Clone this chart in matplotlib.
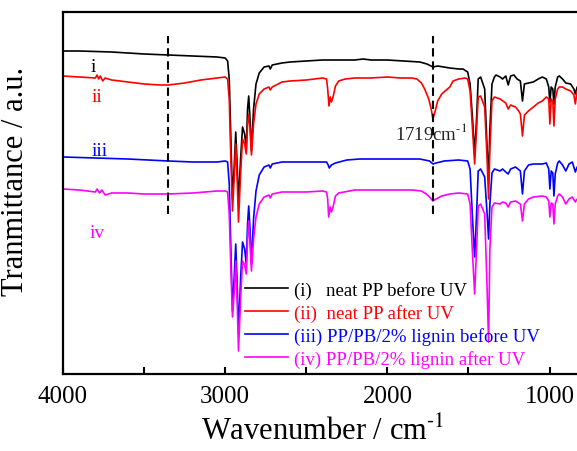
import matplotlib
matplotlib.use("Agg")
import matplotlib.pyplot as plt

plt.rcParams['font.family'] = ['Liberation Serif', 'DejaVu Serif']
plt.rcParams['mathtext.fontset'] = 'stix'

# ---- data (wavenumber cm^-1, offset transmittance a.u.) ----
wn_i = [4000, 3900, 3700, 3500, 3350, 3200, 3050, 3000, 2985, 2975, 2965, 2955, 2945, 2935, 2925, 2918, 2905, 2893, 2880, 2870, 2862, 2855, 2847, 2838, 2825, 2810, 2790, 2760, 2730, 2722, 2710, 2650, 2600, 2500, 2400, 2300, 2200, 2150, 2100, 2000, 1900, 1800, 1756, 1719, 1690, 1615, 1560, 1534, 1505, 1490, 1475, 1462, 1450, 1440, 1425, 1400, 1385, 1376, 1368, 1355, 1340, 1330, 1305, 1290, 1270, 1255, 1240, 1220, 1200, 1180, 1167, 1155, 1130, 1100, 1070, 1045, 1020, 1005, 998, 990, 980, 973, 965, 950, 940, 920, 900, 870, 850, 841, 830, 800]
t_i = [323, 323, 322, 320, 319, 318, 317, 316, 313, 295, 235, 175, 205, 242, 205, 170, 215, 247, 240, 225, 265, 278, 255, 223, 265, 290, 301, 307, 308, 305, 309, 311, 312, 313, 314, 314, 314, 315, 314, 314, 313, 312, 310, 307, 308, 306, 305, 305, 302, 290, 255, 220, 255, 295, 297, 285, 225, 195, 245, 290, 297, 299, 297, 295, 298, 289, 298, 299, 295, 293, 273, 290, 291, 292, 295, 297, 295, 287, 272, 287, 285, 270, 287, 297, 298, 295, 291, 290, 285, 280, 287, 290]

wn_ii = [4000, 3900, 3800, 3790, 3780, 3770, 3755, 3740, 3700, 3600, 3500, 3400, 3350, 3250, 3150, 3050, 3000, 2985, 2975, 2965, 2955, 2945, 2935, 2925, 2918, 2905, 2893, 2880, 2870, 2862, 2855, 2847, 2838, 2825, 2810, 2790, 2760, 2730, 2722, 2710, 2650, 2600, 2500, 2400, 2375, 2368, 2360, 2352, 2345, 2335, 2320, 2300, 2260, 2200, 2100, 2000, 1920, 1850, 1818, 1790, 1770, 1745, 1730, 1719, 1705, 1690, 1665, 1615, 1595, 1560, 1520, 1505, 1490, 1475, 1462, 1450, 1440, 1425, 1400, 1385, 1376, 1368, 1355, 1340, 1305, 1270, 1255, 1240, 1210, 1190, 1180, 1167, 1155, 1130, 1100, 1070, 1045, 1020, 1005, 998, 990, 980, 973, 965, 950, 940, 920, 900, 870, 850, 841, 830, 800]
t_ii = [298, 297, 296, 299, 295, 298, 293, 296, 294, 292, 290, 289, 289, 291, 294, 296, 297, 295, 275, 215, 163, 195, 230, 190, 152, 200, 235, 230, 220, 250, 260, 245, 219, 250, 270, 280, 285, 287, 284, 287, 292, 293, 294, 296, 295, 285, 268, 277, 272, 277, 288, 293, 295, 296, 296, 297, 296, 296, 295, 291, 285, 275, 265, 255, 263, 273, 280, 287, 293, 295, 296, 295, 283, 245, 210, 245, 277, 278, 267, 215, 175, 225, 273, 277, 275, 271, 265, 269, 267, 263, 260, 238, 259, 263, 267, 271, 273, 277, 275, 250, 275, 273, 248, 275, 285, 287, 287, 285, 283, 279, 270, 283, 287]

wn_iii = [4000, 3800, 3600, 3350, 3200, 3050, 3000, 2985, 2975, 2965, 2955, 2945, 2935, 2925, 2918, 2905, 2893, 2880, 2870, 2862, 2855, 2847, 2838, 2825, 2810, 2790, 2760, 2730, 2722, 2710, 2650, 2600, 2500, 2400, 2375, 2365, 2358, 2345, 2320, 2250, 2170, 2000, 1900, 1800, 1740, 1719, 1700, 1650, 1560, 1505, 1490, 1475, 1462, 1450, 1440, 1425, 1400, 1385, 1376, 1368, 1355, 1340, 1305, 1290, 1270, 1255, 1240, 1210, 1180, 1167, 1155, 1130, 1100, 1045, 1020, 1005, 998, 990, 980, 973, 965, 950, 940, 920, 900, 880, 860, 841, 830, 800]
t_iii = [217, 216, 215, 213, 212, 212, 213, 212, 190, 125, 63, 95, 130, 85, 40, 95, 132, 125, 110, 150, 168, 145, 110, 155, 183, 199, 207, 209, 206, 210, 212, 212, 212, 212, 212, 209, 206, 209, 211, 214, 215, 215, 215, 215, 213, 210, 211, 213, 214, 213, 205, 155, 117, 160, 203, 205, 197, 160, 135, 170, 201, 205, 203, 205, 202, 200, 205, 207, 203, 180, 203, 209, 210, 210, 211, 205, 185, 203, 201, 178, 200, 211, 213, 209, 203, 210, 212, 202, 207, 210]

wn_iv = [4000, 3900, 3800, 3790, 3775, 3760, 3740, 3700, 3600, 3500, 3350, 3200, 3050, 3000, 2985, 2975, 2965, 2955, 2945, 2935, 2925, 2918, 2905, 2893, 2880, 2870, 2862, 2855, 2847, 2838, 2825, 2810, 2790, 2760, 2730, 2722, 2710, 2650, 2600, 2500, 2400, 2375, 2368, 2362, 2352, 2345, 2335, 2320, 2300, 2200, 2000, 1850, 1790, 1760, 1740, 1719, 1700, 1665, 1615, 1560, 1505, 1490, 1475, 1462, 1450, 1440, 1425, 1400, 1385, 1376, 1368, 1355, 1340, 1305, 1290, 1270, 1255, 1240, 1210, 1180, 1167, 1155, 1130, 1100, 1045, 1020, 1005, 998, 990, 980, 973, 965, 950, 940, 920, 900, 880, 860, 841, 830, 800]
t_iv = [185, 184, 182, 185, 181, 184, 179, 181, 181, 180, 180, 181, 183, 183, 182, 160, 105, 57, 80, 113, 65, 23, 75, 113, 109, 100, 135, 153, 130, 103, 135, 157, 170, 177, 179, 176, 180, 182, 182, 182, 183, 182, 175, 157, 167, 162, 167, 178, 181, 184, 184, 184, 183, 180, 177, 173, 175, 178, 180, 181, 180, 170, 120, 80, 125, 168, 170, 160, 85, 32, 125, 167, 171, 170, 172, 171, 167, 172, 173, 170, 153, 170, 175, 177, 178, 177, 173, 157, 171, 170, 150, 170, 178, 180, 177, 170, 175, 177, 172, 175, 177]

series_labels = ["(i)   neat PP before UV", "(ii)  neat PP after UV",
                 "(iii) PP/PB/2% lignin before UV", "(iv) PP/PB/2% lignin after UV"]
series_tags = ["i", "ii", "iii", "iv"]
tag_pos_wn = [3815, 3790, 3772, 3790]
tag_pos_t = [308, 278, 223, 142]
colors = ["#000000", "#FF0000", "#0000FF", "#FF00FF"]
marker_lines = [3350, 1719]
annot_text = "1719cm$^{\\text{-1}}$"
annot_wn, annot_t = 1955, 242
xticks_major = [4000, 3000, 2000, 1000]
xticks_minor = [3500, 2500, 1500]

# ---- figure ----
fig = plt.figure(figsize=(5.77, 4.52), dpi=100)
ax = fig.add_axes([63/577, 1-375/452, 519/577, 362/452])

xs = [wn_i, wn_ii, wn_iii, wn_iv]
ys = [t_i, t_ii, t_iii, t_iv]
for x, y, c, lab in zip(xs, ys, colors, series_labels):
    ax.plot(x, y, color=c, lw=1.2, label=lab)

for m in marker_lines:
    ax.axvline(m, ymin=0.442, ymax=0.934, color='black', lw=1.5, ls=(0, (4, 2.3)))

for tag, xw, yt, c in zip(series_tags, tag_pos_wn, tag_pos_t, colors):
    ax.text(xw, yt, tag, color=c, fontsize=14, ha='center', va='center')

ax.text(annot_wn, annot_t, annot_text, fontsize=13.5, ha='left', va='center', color='#222222')

ax.set_xlim(4000, 800)
ax.set_ylim(0, 362)
ax.set_xticks(xticks_major)
ax.set_xticks(xticks_minor, minor=True)
ax.set_yticks([])
ax.tick_params(axis='x', which='major', direction='in', length=5, width=1.5, labelsize=18, pad=8)
ax.tick_params(axis='x', which='minor', direction='in', length=5, width=1.5)
for s in ['left', 'top', 'bottom']:
    ax.spines[s].set_linewidth(1.6)
ax.spines['right'].set_visible(False)

ax.set_xlabel("Wavenumber / cm$^{\\text{-1}}$", fontsize=22, labelpad=6)
ax.set_ylabel("Tranmittance / a.u.", fontsize=22)
ax.yaxis.set_label_coords(-0.064, 0.535)

leg = ax.legend(loc='upper left', bbox_to_anchor=(0.351, 0.258), frameon=False,
                fontsize=13.5, handlelength=2.3, handletextpad=0.3,
                labelspacing=0.28, borderpad=0, borderaxespad=0)
for txt, c in zip(leg.get_texts(), colors):
    txt.set_color(c)

fig.savefig("out.png", dpi=100)
